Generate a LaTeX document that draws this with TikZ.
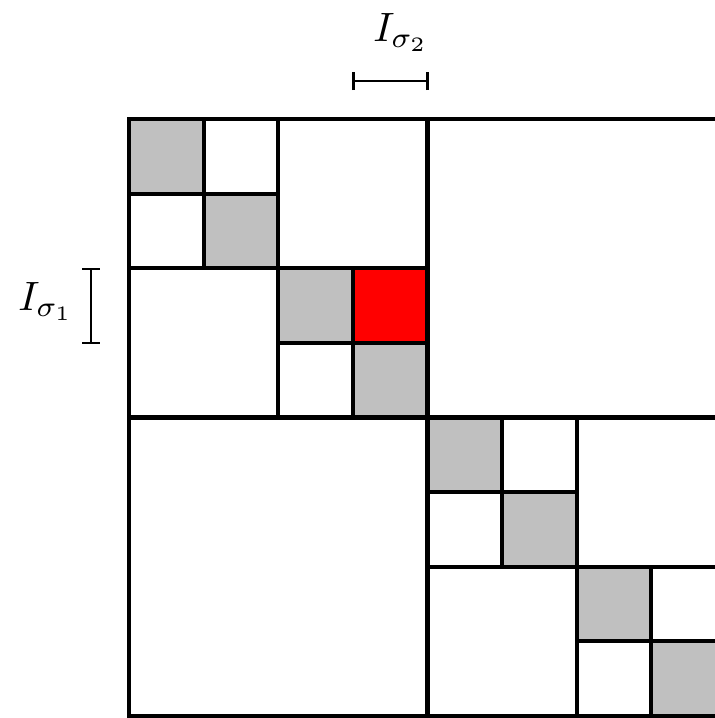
\documentclass[tikz,border=0pt]{standalone}
\begin{document}
\begin{tikzpicture}[x=1pt,y=-1pt,
  cellline/.style={line width=4.2pt,line join=miter},
  grayfill/.style={fill={rgb,255:red,192;green,192;blue,192}},
  redfill/.style={fill={rgb,255:red,255;green,0;blue,0}},
  bracket/.style={line width=2.4pt},
  lbl/.style={inner sep=0pt,anchor=base,scale=4.1}]
\useasboundingbox (0,0) rectangle (715,718);
\clip (0,0) rectangle (715,718);
\begin{scope}[shift={(129,119)},x=74.6pt,y=-74.6pt]
  \foreach \i in {0,...,7} {\fill[grayfill] (\i,\i) rectangle ++(1,1);}
  \fill[redfill] (3,2) rectangle (4,3);
  % outer border
  \draw[cellline] (0,0) rectangle (8,8);
  % level 1
  \draw[cellline] (4,0) -- (4,8);
  \draw[cellline] (0,4) -- (8,4);
  % level 2
  \draw[cellline] (2,0) -- (2,4);
  \draw[cellline] (0,2) -- (4,2);
  \draw[cellline] (6,4) -- (6,8);
  \draw[cellline] (4,6) -- (8,6);
  % level 3
  \draw[cellline] (1,0) -- (1,2);
  \draw[cellline] (0,1) -- (2,1);
  \draw[cellline] (3,2) -- (3,4);
  \draw[cellline] (2,3) -- (4,3);
  \draw[cellline] (5,4) -- (5,6);
  \draw[cellline] (4,5) -- (6,5);
  \draw[cellline] (7,6) -- (7,8);
  \draw[cellline] (6,7) -- (8,7);
\end{scope}
% I_sigma2 bracket
\coordinate (b2l) at (353.5,81);
\coordinate (b2r) at (427.5,81);
\draw[bracket] (b2l) -- (b2r);
\draw[bracket] ([yshift=-9pt]b2l) -- ([yshift=9pt]b2l);
\draw[bracket] ([yshift=-9pt]b2r) -- ([yshift=9pt]b2r);
\node[lbl] (s2) at (401,41) {$I_{\sigma_2}$};
% I_sigma1 bracket
\coordinate (b1t) at (91,269);
\coordinate (b1b) at (91,343);
\draw[bracket] (b1t) -- (b1b);
\draw[bracket] ([xshift=-9pt]b1t) -- ([xshift=9pt]b1t);
\draw[bracket] ([xshift=-9pt]b1b) -- ([xshift=9pt]b1b);
\node[lbl] (s1) at (46,310) {$I_{\sigma_1}$};
\end{tikzpicture}
\end{document}
